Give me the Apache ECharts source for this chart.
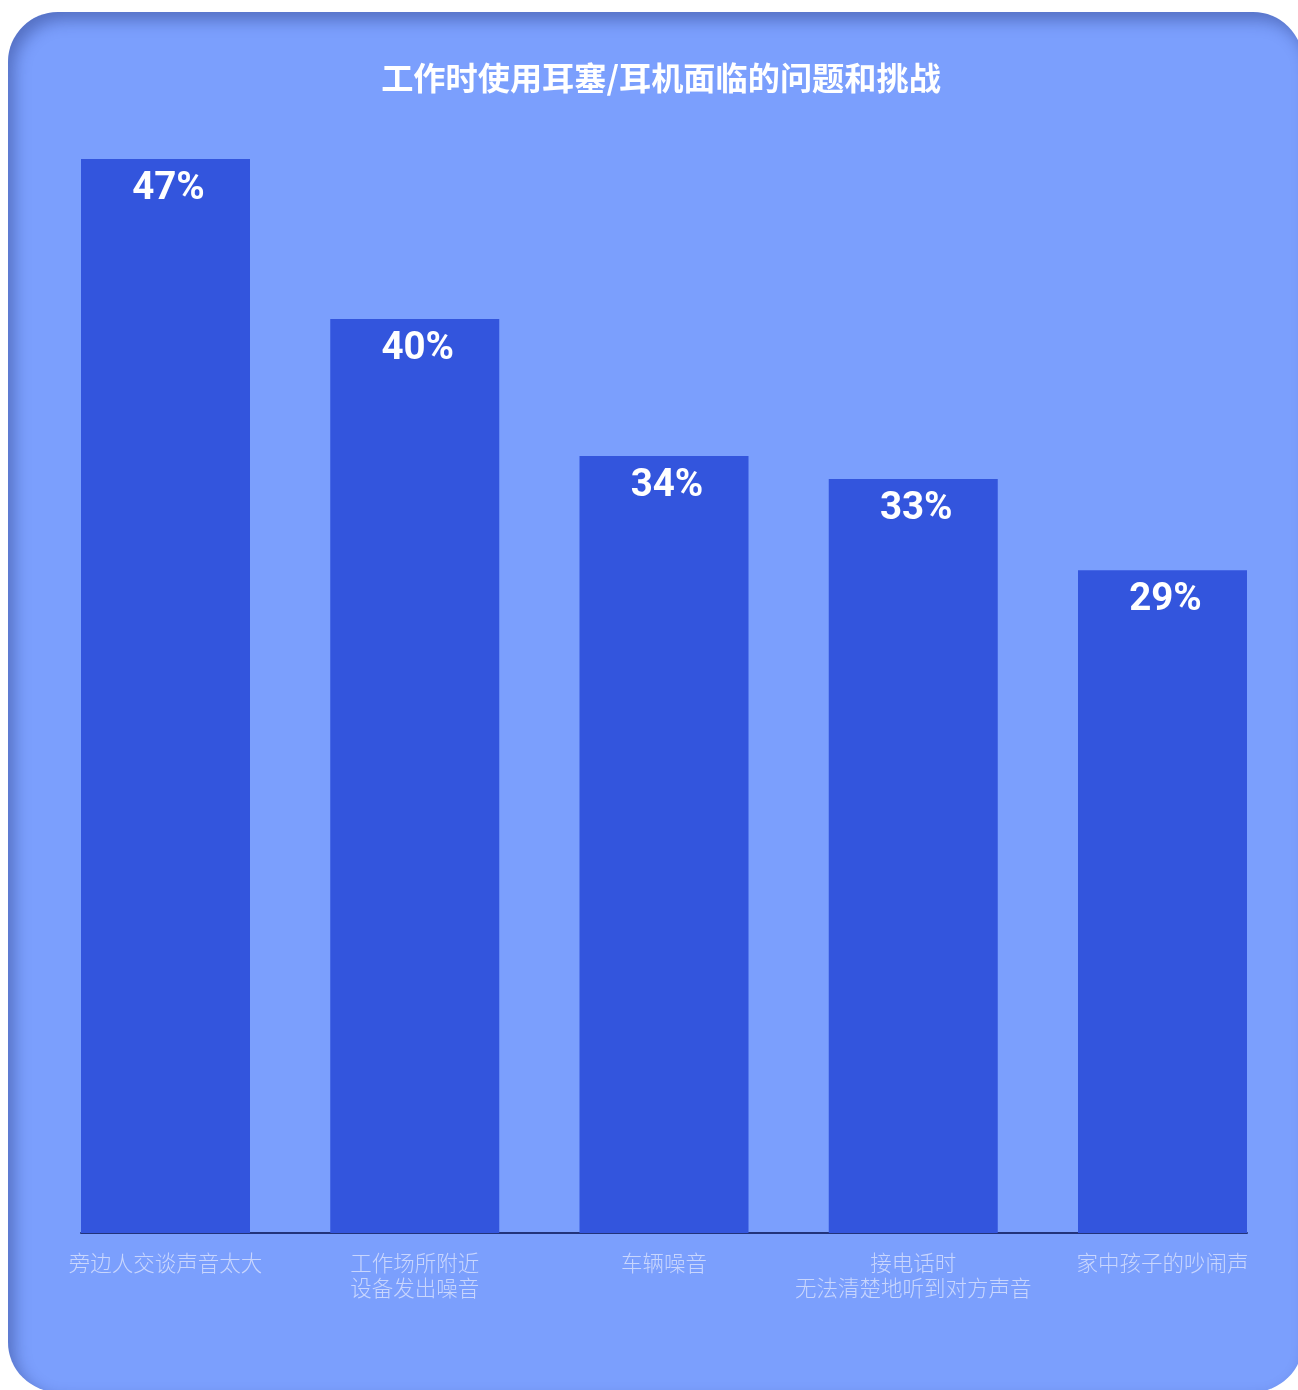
<!DOCTYPE html>
<html>
<head>
<meta charset="utf-8">
<script src="https://cdn.jsdelivr.net/npm/echarts@6/dist/echarts.min.js"></script>
<style>
html,body{margin:0;padding:0;width:1298px;height:1390px;overflow:hidden;background:#ffffff;}
#bg{position:absolute;left:8px;top:12px;width:1295px;height:1380px;border-radius:50px;background:#7b9ffd;
box-shadow:inset 6px 8px 16px rgba(20,35,100,0.38);}
#chart{position:absolute;left:0;top:0;width:1298px;height:1390px;}
</style>
</head>
<body>
<div id="bg"></div>
<div id="chart"></div>
<script>
const titleText = '工作时使用耳塞/耳机面临的问题和挑战';
const categories = ['旁边人交谈声音太大', '工作场所附近\n设备发出噪音', '车辆噪音', '接电话时\n无法清楚地听到对方声音', '家中孩子的吵闹声'];
const values = [47, 40, 34, 33, 29];

const chart = echarts.init(document.getElementById('chart'), null, {renderer: 'canvas'});
chart.setOption({
  backgroundColor: 'transparent',
  animation: false,
  title: {
    text: titleText,
    left: 656,
    top: 57,
    textAlign: 'center',
    textStyle: {color: '#ffffff', fontSize: 32.2, fontWeight: 'bold', fontFamily: '"Noto Sans CJK SC", sans-serif'}
  },
  grid: [
    {left: 165.5, right: 135.5, top: 159, bottom: 157},
    {left: 81, right: 51, top: 159, bottom: 157}
  ],
  xAxis: [
    {
      type: 'category', gridIndex: 0, data: categories, boundaryGap: false,
      axisLine: {show: false}, axisTick: {show: false},
      axisLabel: {interval: 0, margin: 17, color: '#c9d6fd', fontSize: 21.5, lineHeight: 25, fontWeight: 300,
        fontFamily: '"Noto Sans CJK SC", sans-serif'}
    },
    {
      type: 'value', gridIndex: 1, min: 0, max: 1,
      axisLine: {show: true, lineStyle: {color: '#22337a', width: 2}},
      axisTick: {show: false}, axisLabel: {show: false}, splitLine: {show: false}
    }
  ],
  yAxis: [
    {type: 'value', gridIndex: 0, min: 0, max: 47, show: false, splitLine: {show: false}},
    {type: 'value', gridIndex: 1, min: 0, max: 1, show: false, splitLine: {show: false}}
  ],
  series: [{
    type: 'bar', xAxisIndex: 0, yAxisIndex: 0,
    data: values, barWidth: 169, clip: false,
    itemStyle: {color: '#3355dd'},
    label: {
      show: true, position: 'insideTop', distance: 11, offset: [3, 0],
      formatter: '{c}%', color: '#ffffff', fontSize: 38.5, fontWeight: 'bold',
      fontFamily: 'Roboto, sans-serif'
    }
  }]
});
</script>
</body>
</html>
